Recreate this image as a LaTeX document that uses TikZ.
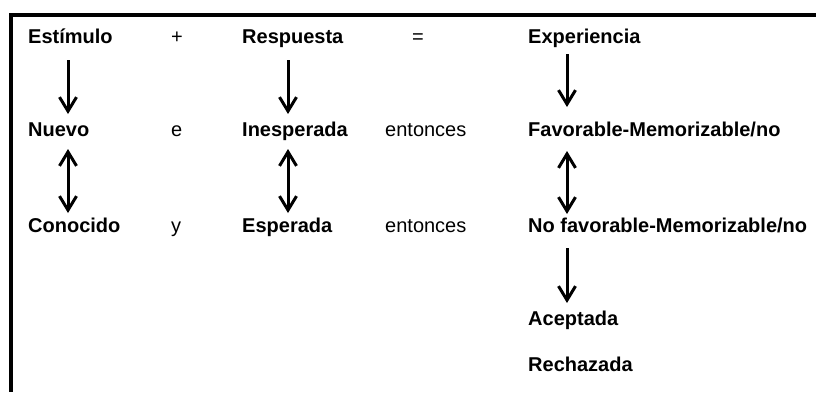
\documentclass[tikz,border=0pt]{standalone}
\usepackage{fontspec}
\setmainfont{Liberation Sans}
\usetikzlibrary{arrows.meta}
\begin{document}
\begin{tikzpicture}[x=1pt,y=-1pt,
  lbl/.style={anchor=base west,inner sep=0pt,font=\fontsize{20}{24}\selectfont\bfseries},
  plain/.style={anchor=base west,inner sep=0pt,font=\fontsize{20}{24}\selectfont},
  arr/.style={line width=3pt,-{Straight Barb[length=14pt,width=17pt,line width=3pt]}},
  darr/.style={line width=3pt,{Straight Barb[length=14pt,width=17pt,line width=3pt]}-{Straight Barb[length=14pt,width=17pt,line width=3pt]}},
  frame/.style={line width=3.5pt}]
\useasboundingbox (0,0) rectangle (816,392);
% frame
\coordinate (fc) at (11,15);
\coordinate (fr) at (816,15);
\coordinate (fb) at (11,392);
\draw[frame] (fr) -- (fc) -- (fb);
% row 1
\node[lbl] (est) at (28,43) {Estímulo};
\node[plain] (plus) at (171,43) {+};
\node[lbl] (resp) at (242,43) {Respuesta};
\node[plain] (eq) at (412,43) {=};
\node[lbl] (exp) at (528,43) {Experiencia};
% row 2
\node[lbl] (nue) at (28,136.5) {Nuevo};
\node[plain] (e) at (171,136.5) {e};
\node[lbl] (ines) at (242,136.5) {Inesperada};
\node[plain] (ent1) at (385,136.5) {entonces};
\node[lbl] (fav) at (528,136.5) {Favorable-Memorizable/no};
% row 3
\node[lbl] (con) at (28,232) {Conocido};
\node[plain] (y) at (171,232) {y};
\node[lbl] (esp) at (242,232) {Esperada};
\node[plain] (ent2) at (385,232) {entonces};
\node[lbl] (nofav) at (528,232) {No favorable-Memorizable/no};
% rows 4,5
\node[lbl] (acep) at (528,325) {Aceptada};
\node[lbl] (rech) at (528,371) {Rechazada};
% arrow end points
\coordinate (a1s) at (68,60);   \coordinate (a1e) at (68,114);
\coordinate (a2s) at (288,60);  \coordinate (a2e) at (288,114);
\coordinate (a3s) at (567,54);  \coordinate (a3e) at (567,107);
\coordinate (d1s) at (68,149);  \coordinate (d1e) at (68,213);
\coordinate (d2s) at (288,149); \coordinate (d2e) at (288,213);
\coordinate (d3s) at (567,151); \coordinate (d3e) at (567,214);
\coordinate (a4s) at (567,248); \coordinate (a4e) at (567,303);
\draw[arr] (a1s) -- (a1e);
\draw[arr] (a2s) -- (a2e);
\draw[arr] (a3s) -- (a3e);
\draw[darr] (d1s) -- (d1e);
\draw[darr] (d2s) -- (d2e);
\draw[darr] (d3s) -- (d3e);
\draw[arr] (a4s) -- (a4e);
\end{tikzpicture}
\end{document}
